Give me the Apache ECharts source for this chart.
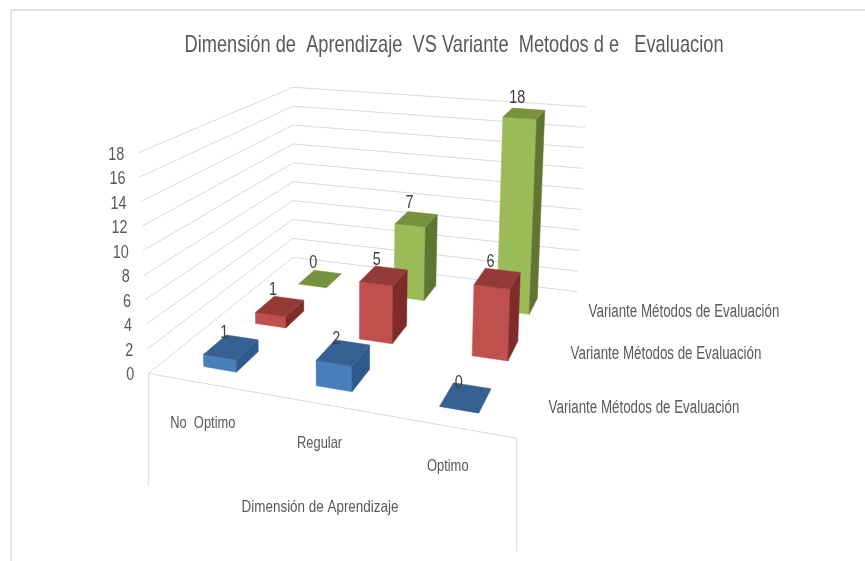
<!DOCTYPE html>
<html>
<head>
<meta charset="utf-8">
<style>
  html, body { margin: 0; background: #fff; }
  #main { width: 865px; height: 561px; }
</style>
<script src="https://cdn.jsdelivr.net/npm/echarts@6/dist/echarts.min.js"></script>
</head>
<body>
<div id="main"></div>
<script>
var categories = ['No  Optimo', 'Regular', 'Optimo']
var tickValues = [0, 2, 4, 6, 8, 10, 12, 14, 16, 18]
var titleText = 'Dimensión de  Aprendizaje  VS Variante  Metodos d e   Evaluacion'
var xName = 'Dimensión de Aprendizaje'
var serieName = 'Variante Métodos de Evaluación'
// de adelante hacia atras
var blueValues = [1, 2, 0]
var redValues = [1, 5, 6]
var greenValues = [0, 7, 18]

var font = '"Liberation Sans", sans-serif'
var textColor = '#595959'
var lineColor = '#d9d9d9'

// cuadro del piso (v=0) y del techo (v=18) en pantalla
function quad(p0, p1, p2, p3) {
  var dx1 = p1[0] - p2[0], dx2 = p3[0] - p2[0], dx3 = p0[0] - p1[0] + p2[0] - p3[0]
  var dy1 = p1[1] - p2[1], dy2 = p3[1] - p2[1], dy3 = p0[1] - p1[1] + p2[1] - p3[1]
  var den = dx1 * dy2 - dx2 * dy1
  var g = (dx3 * dy2 - dx2 * dy3) / den
  var h = (dx1 * dy3 - dx3 * dy1) / den
  return function (u, v) {
    var w = g * u + h * v + 1
    return [
      ((p1[0] - p0[0] + g * p1[0]) * u + (p3[0] - p0[0] + h * p3[0]) * v + p0[0]) / w,
      ((p1[1] - p0[1] + g * p1[1]) * u + (p3[1] - p0[1] + h * p3[1]) * v + p0[1]) / w
    ]
  }
}
var floorQuad = quad([148.3, 373.5], [516.7, 438.3], [577.3, 291.7], [293, 257.3])
var topQuad = quad([138.3, 152.7], [525.4, 191], [586, 106.7], [293, 87.3])

// u: ancho (0-1), d: profundidad (0-1), t: altura (0-1)
function project(u, d, t) {
  var a = floorQuad(u, d)
  var b = topQuad(u, d)
  return [a[0] + (b[0] - a[0]) * t, a[1] + (b[1] - a[1]) * t]
}

// pasa un valor de datos por las escalas del grid
function toUT(params, api, cat, val) {
  var c = api.coord([cat, val])
  var sys = params.coordSys
  return [(c[0] - sys.x) / sys.width, (sys.y + sys.height - c[1]) / sys.height]
}

function poly(points, color) {
  return { type: 'polygon', shape: { points: points }, style: { fill: color, stroke: color, lineWidth: 0.5 } }
}

// el texto de la imagen original es angosto, se comprime con scaleX
function label(x, y, text, size, scaleX, align, color) {
  return {
    type: 'text',
    x: x,
    y: y,
    scaleX: scaleX,
    z2: 5,
    style: {
      x: 0, y: 0, text: text, align: align || 'center', verticalAlign: 'middle',
      font: size + 'px ' + font, fill: color || textColor
    }
  }
}

function barSeries(name, values, depth, shift, labelDy, colors) {
  return {
    name: name,
    type: 'custom',
    data: values.map(function (v, i) { return [i, v] }),
    encode: { x: 0, y: 1 },
    renderItem: function (params, api) {
      var ut = toUT(params, api, api.value(0), api.value(1))
      var hw = 0.05
      var hd = 0.07
      var mid = ut[0] + shift
      var u0 = mid - hw, u1 = mid + hw, d0 = depth - hd, d1 = depth + hd, t = ut[1]
      var children = []
      if (t > 0) {
        children.push(poly([project(u0, d0, 0), project(u1, d0, 0), project(u1, d0, t), project(u0, d0, t)], colors[0]))
        children.push(poly([project(u1, d0, 0), project(u1, d1, 0), project(u1, d1, t), project(u1, d0, t)], colors[2]))
      }
      children.push(poly([project(u0, d0, t), project(u1, d0, t), project(u1, d1, t), project(u0, d1, t)], colors[1]))
      var c = project(mid, depth, t)
      children.push(label(c[0] - 7, c[1] - labelDy, String(api.value(1)), 18, 0.8, 'center', '#404040'))
      return { type: 'group', children: children }
    }
  }
}

var option = {
  animation: false,
  backgroundColor: '#fff',
  grid: { left: 148, top: 153, width: 369, height: 220 },
  xAxis: { type: 'category', data: categories, show: false },
  yAxis: { type: 'value', min: 0, max: 18, interval: 2, show: false },
  graphic: [
    { type: 'line', shape: { x1: 11, y1: 10, x2: 865, y2: 10 }, style: { stroke: lineColor, lineWidth: 1.5 } },
    { type: 'line', shape: { x1: 11, y1: 10, x2: 11, y2: 561 }, style: { stroke: lineColor, lineWidth: 1.5 } },
    label(454, 45, titleText, 24, 0.76),
    label(320, 507, xName, 17, 0.79),
    label(684, 312, serieName, 18, 0.74),
    label(666, 354, serieName, 18, 0.74),
    label(644, 408, serieName, 18, 0.74)
  ],
  series: [
    {
      // paredes: lineas de cada tick y su etiqueta
      type: 'custom',
      silent: true,
      data: tickValues.map(function (v) { return [0, v] }),
      encode: { x: 0, y: 1 },
      renderItem: function (params, api) {
        var t = toUT(params, api, 0, api.value(1))[1]
        var a = project(0, 0, t), b = project(0, 1, t), c = project(1, 1, t)
        return {
          type: 'group',
          children: [
            { type: 'polyline', shape: { points: [a, b, c] }, style: { fill: null, stroke: lineColor, lineWidth: 1 } },
            label(a[0] - 14, a[1] + 2, String(api.value(1)), 18, 0.8, 'right')
          ]
        }
      }
    },
    {
      // borde del piso, marcas y nombres de categoria
      type: 'custom',
      silent: true,
      data: categories.map(function (c, i) { return [i, 0] }),
      encode: { x: 0, y: 1 },
      renderItem: function (params, api) {
        var i = api.value(0)
        var u = toUT(params, api, i, 0)[0]
        var p = project(u, 0, 0)
        var children = [label(p[0], p[1] + 40, categories[i], 17, 0.76)]
        if (i === 0) {
          var a = project(0, 0, 0), b = project(1, 0, 0)
          children.push({ type: 'line', shape: { x1: a[0], y1: a[1], x2: b[0], y2: b[1] }, style: { stroke: lineColor, lineWidth: 1 } })
          children.push({ type: 'line', shape: { x1: a[0], y1: a[1], x2: a[0], y2: a[1] + 113 }, style: { stroke: lineColor, lineWidth: 1 } })
          children.push({ type: 'line', shape: { x1: b[0], y1: b[1], x2: b[0], y2: b[1] + 113 }, style: { stroke: lineColor, lineWidth: 1 } })
        }
        return { type: 'group', children: children }
      }
    },
    barSeries('Verde', greenValues, 0.83, 0.006, 16, ['#9bbb59', '#76923c', '#5f7530']),
    barSeries('Rojo', redValues, 0.48, 0.012, 16, ['#c0504d', '#963a38', '#7f2b29']),
    barSeries('Azul', blueValues, 0.16, 0.005, 14, ['#4a7ebb', '#376092', '#2f5a8e'])
  ]
}

var chart = echarts.init(document.getElementById('main'))
chart.setOption(option)
</script>
</body>
</html>
